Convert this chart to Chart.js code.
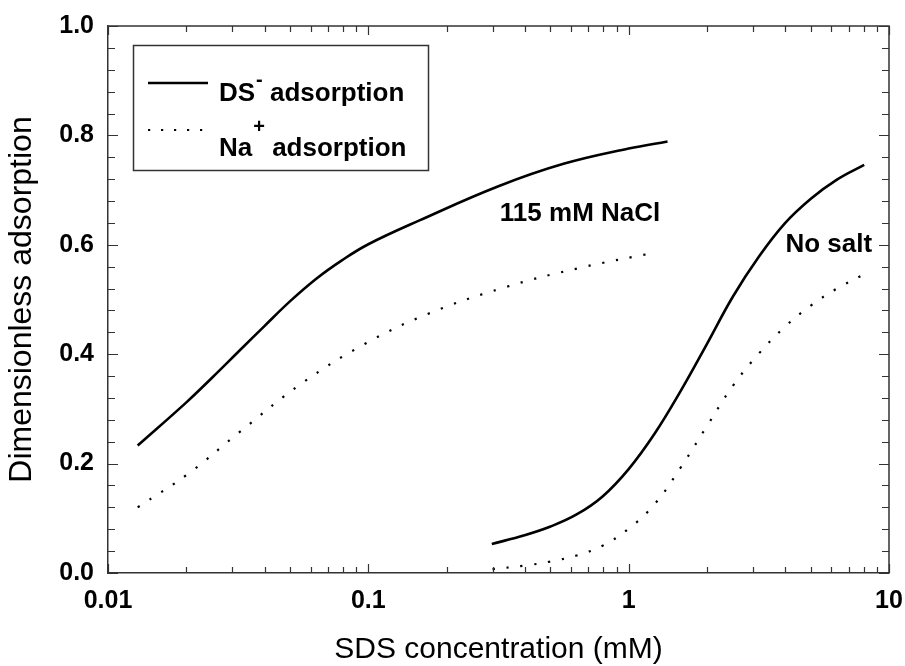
<!DOCTYPE html>
<html>
<head>
<meta charset="utf-8">
<script src="https://cdn.jsdelivr.net/npm/chart.js@4.4.1/dist/chart.umd.min.js"></script>
<style>
  html, body { margin: 0; padding: 0; background: #fff; }
  #chart { display: block; }
</style>
</head>
<body>
<canvas id="chart" width="905" height="666"></canvas>
<script>
// 115 mM NaCl
const saltDsX = [0.013, 0.020, 0.0251, 0.0316, 0.0398, 0.0501, 0.0631, 0.0794, 0.100, 0.158, 0.316, 0.562, 1.00, 1.41];
const saltDsY = [0.233, 0.312, 0.357, 0.404, 0.451, 0.497, 0.538, 0.572, 0.601, 0.645, 0.707, 0.748, 0.776, 0.789];
const saltNaX = [0.0130, 0.0204, 0.0319, 0.0556, 0.0971, 0.170, 0.333, 0.652, 1.27];
const saltNaY = [0.120, 0.182, 0.257, 0.347, 0.419, 0.474, 0.522, 0.558, 0.586];

// no salt
const noSaltDsX = [0.298, 0.398, 0.501, 0.631, 0.794, 1.00, 1.259, 1.585, 1.995, 2.512, 3.162, 3.98, 5.01, 6.31, 8.03];
const noSaltDsY = [0.053, 0.069, 0.085, 0.107, 0.140, 0.190, 0.255, 0.333, 0.418, 0.505, 0.578, 0.639, 0.684, 0.719, 0.746];
const noSaltNaX = [0.30, 0.398, 0.501, 0.631, 0.794, 1.00, 1.259, 1.585, 1.995, 2.512, 3.162, 3.98, 5.01, 6.31, 7.86];
const noSaltNaY = [0.007, 0.0135, 0.021, 0.032, 0.050, 0.081, 0.126, 0.193, 0.268, 0.342, 0.401, 0.450, 0.489, 0.520, 0.544];

const xTickLabels = ['0.01', '0.1', '1', '10'];
const yTickLabels = ['0.0', '0.2', '0.4', '0.6', '0.8', '1.0'];

const axisColor = '#333';
const fontFamily = '"Liberation Sans", Arial, sans-serif';

function pts(xs, ys) {
  return xs.map((x, i) => ({ x: x, y: ys[i] }));
}

function series(xs, ys, dotted) {
  return {
    data: pts(xs, ys),
    borderColor: '#000',
    borderWidth: dotted ? 2.2 : 2.6,
    borderDash: dotted ? [2.2, 11.8] : [],
    pointRadius: 0,
    fill: false,
    tension: 0.4
  };
}

// frame, inside ticks, legend box and labels
const decorations = {
  id: 'decorations',
  afterDraw(chart) {
    const { ctx, chartArea: a, scales: { x, y } } = chart;
    ctx.save();
    ctx.strokeStyle = axisColor;
    ctx.lineWidth = 1.5;
    ctx.beginPath();
    ctx.moveTo(a.left, a.top);
    ctx.lineTo(a.right, a.top);
    ctx.lineTo(a.right, a.bottom);
    ctx.stroke();

    ctx.lineWidth = 1.2;
    ctx.beginPath();
    for (let e = -2; e <= 1; e++) {
      for (let m = 1; m <= 9; m++) {
        const v = m * Math.pow(10, e);
        if (v > 10.0001) break;
        const px = Math.round(x.getPixelForValue(v)) + 0.5;
        const len = m === 1 ? 9 : 6;
        ctx.moveTo(px, a.bottom); ctx.lineTo(px, a.bottom - len);
        ctx.moveTo(px, a.top); ctx.lineTo(px, a.top + len);
      }
    }
    for (let k = 0; k <= 25; k++) {
      const py = Math.round(y.getPixelForValue(k * 0.04)) + 0.5;
      const len = k % 5 === 0 ? 10 : 7;
      ctx.moveTo(a.left, py); ctx.lineTo(a.left + len, py);
      ctx.moveTo(a.right, py); ctx.lineTo(a.right - len, py);
    }
    ctx.stroke();

    // legend
    const bx = a.left + 25.5, by = a.top + 19.5;
    ctx.lineWidth = 1.5;
    ctx.strokeRect(bx, by, 295, 125);
    ctx.strokeStyle = '#000';
    ctx.lineWidth = 2.6;
    ctx.beginPath();
    ctx.moveTo(a.left + 40, a.top + 57);
    ctx.lineTo(a.left + 100, a.top + 57);
    ctx.stroke();
    ctx.lineWidth = 2.2;
    ctx.setLineDash([2.2, 10.8]);
    ctx.beginPath();
    ctx.moveTo(a.left + 40, a.top + 104);
    ctx.lineTo(a.left + 100, a.top + 104);
    ctx.stroke();
    ctx.setLineDash([]);

    ctx.fillStyle = '#000';
    ctx.textBaseline = 'middle';
    ctx.textAlign = 'left';
    const legFont = 'bold 26px ' + fontFamily;
    const supFont = 'bold 20px ' + fontFamily;
    function row(tx, ty, base, sup, supDy, rest) {
      ctx.font = legFont;
      ctx.fillText(base, tx, ty);
      let cx = tx + ctx.measureText(base).width + 1;
      ctx.font = supFont;
      ctx.fillText(sup, cx, ty + supDy);
      cx += ctx.measureText(sup).width;
      ctx.font = legFont;
      ctx.fillText(rest, cx, ty);
    }
    row(a.left + 111, a.top + 68, 'DS', '-', -14, ' adsorption');
    row(a.left + 111, a.top + 123, 'Na', '+', -22, ' adsorption');

    // curve labels
    ctx.font = 'bold 26px ' + fontFamily;
    ctx.fillText('115 mM NaCl', x.getPixelForValue(0.32), y.getPixelForValue(0.656));
    ctx.fillText('No salt', x.getPixelForValue(4.0), y.getPixelForValue(0.600));
    ctx.restore();
  }
};

const ctx = document.getElementById('chart').getContext('2d');
const chart = new Chart(ctx, {
  type: 'line',
  data: {
    datasets: [
      series(saltDsX, saltDsY, false),
      series(saltNaX, saltNaY, true),
      series(noSaltDsX, noSaltDsY, false),
      series(noSaltNaX, noSaltNaY, true)
    ]
  },
  options: {
    responsive: false,
    animation: false,
    layout: { padding: { top: 26, right: 16, left: 0, bottom: 0 } },
    plugins: { legend: { display: false }, tooltip: { enabled: false } },
    scales: {
      x: {
        type: 'logarithmic',
        min: 0.01,
        max: 10,
        afterFit(scale) {
          scale.height = 93;
          scale.paddingLeft = 0;
          scale.paddingRight = 0;
        },
        grid: { display: false, drawTicks: false },
        border: { display: true, color: axisColor, width: 1.5 },
        ticks: {
          autoSkip: false,
          maxRotation: 0,
          padding: 13,
          color: '#000',
          font: { family: fontFamily, size: 25, weight: 'bold' },
          callback(v) {
            const e = Math.log10(v);
            if (Math.abs(e - Math.round(e)) > 1e-6) return '';
            return xTickLabels[Math.round(e) + 2];
          }
        },
        title: {
          display: true,
          text: 'SDS concentration (mM)',
          color: '#000',
          font: { family: fontFamily, size: 30, lineHeight: 1 },
          padding: { top: 0, bottom: 1 }
        }
      },
      y: {
        min: 0,
        max: 1,
        afterFit(scale) {
          scale.width = 108;
          scale.paddingTop = 0;
          scale.paddingBottom = 0;
        },
        grid: { display: false, drawTicks: false },
        border: { display: true, color: axisColor, width: 1.5 },
        ticks: {
          stepSize: 0.2,
          padding: 14,
          color: '#000',
          font: { family: fontFamily, size: 25, weight: 'bold' },
          callback(v, i) { return yTickLabels[i]; }
        },
        title: {
          display: true,
          text: 'Dimensionless adsorption',
          color: '#000',
          font: { family: fontFamily, size: 32, lineHeight: 1 },
          padding: { top: 6, bottom: 0 }
        }
      }
    }
  },
  plugins: [decorations]
});
</script>
</body>
</html>
